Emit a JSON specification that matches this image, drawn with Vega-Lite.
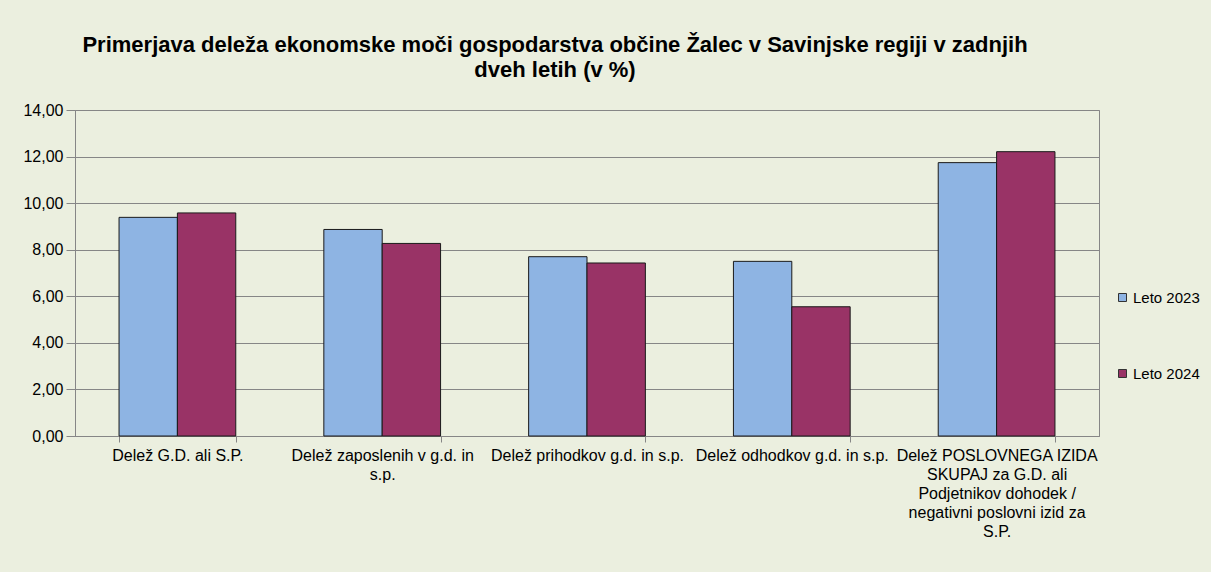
{
  "$schema": "https://vega.github.io/schema/vega-lite/v6.json",
  "width": 1024,
  "height": 326,
  "autosize": {"type": "none"},
  "padding": {"left": 75, "top": 110, "right": 112, "bottom": 136},
  "background": "#EBEFDF",
  "title": {
    "text": ["Primerjava deleža ekonomske moči gospodarstva občine Žalec v Savinjske regiji v zadnjih", "dveh letih (v %)"],
    "font": "Liberation Sans",
    "fontSize": 22,
    "fontWeight": "bold",
    "color": "#000000",
    "anchor": "middle",
    "dx": -32,
    "offset": 20.5,
    "lineHeight": 25
  },
  "data": {
    "values": [
      {"kategorija": "Delež G.D. ali S.P.", "leto": "Leto 2023", "vrednost": 9.39},
      {"kategorija": "Delež G.D. ali S.P.", "leto": "Leto 2024", "vrednost": 9.58},
      {"kategorija": "Delež zaposlenih v g.d. in s.p.", "leto": "Leto 2023", "vrednost": 8.87},
      {"kategorija": "Delež zaposlenih v g.d. in s.p.", "leto": "Leto 2024", "vrednost": 8.27},
      {"kategorija": "Delež prihodkov g.d. in s.p.", "leto": "Leto 2023", "vrednost": 7.70},
      {"kategorija": "Delež prihodkov g.d. in s.p.", "leto": "Leto 2024", "vrednost": 7.43},
      {"kategorija": "Delež odhodkov g.d. in s.p.", "leto": "Leto 2023", "vrednost": 7.50},
      {"kategorija": "Delež odhodkov g.d. in s.p.", "leto": "Leto 2024", "vrednost": 5.55},
      {"kategorija": "Delež POSLOVNEGA IZIDA SKUPAJ  za G.D. ali Podjetnikov dohodek / negativni poslovni izid za S.P.", "leto": "Leto 2023", "vrednost": 11.74},
      {"kategorija": "Delež POSLOVNEGA IZIDA SKUPAJ  za G.D. ali Podjetnikov dohodek / negativni poslovni izid za S.P.", "leto": "Leto 2024", "vrednost": 12.21}
    ]
  },
  "mark": {"type": "bar", "stroke": "#1A1A1A", "strokeWidth": 1},
  "encoding": {
    "x": {
      "field": "kategorija",
      "type": "nominal",
      "sort": null,
      "title": null,
      "scale": {"paddingInner": 0.43, "paddingOuter": 0.215},
      "axis": {
        "labelAngle": 0,
        "labelFont": "Liberation Sans",
        "labelFontSize": 16,
        "labelColor": "#000000",
        "labelPadding": 5,
        "labelLineHeight": 19,
        "labelLimit": 0,
        "labelBaseline": "top",
        "tickBand": "extent",
        "tickSize": 6,
        "tickColor": "#868686",
        "domainColor": "#868686",
        "labelExpr": "datum.value == 'Delež zaposlenih v g.d. in s.p.' ? ['Delež zaposlenih v g.d. in', 's.p.'] : datum.value == 'Delež POSLOVNEGA IZIDA SKUPAJ  za G.D. ali Podjetnikov dohodek / negativni poslovni izid za S.P.' ? ['Delež POSLOVNEGA IZIDA', 'SKUPAJ  za G.D. ali', 'Podjetnikov dohodek /', 'negativni poslovni izid za', 'S.P.'] : datum.label"
      }
    },
    "xOffset": {"field": "leto", "type": "nominal"},
    "y": {
      "field": "vrednost",
      "type": "quantitative",
      "title": null,
      "scale": {"domain": [0, 14], "nice": false},
      "axis": {
        "values": [0, 2, 4, 6, 8, 10, 12, 14],
        "labelExpr": "replace(format(datum.value, '.2f'), '.', ',')",
        "labelFont": "Liberation Sans",
        "labelFontSize": 16,
        "labelColor": "#000000",
        "labelPadding": 3,
        "tickSize": 9,
        "tickColor": "#868686",
        "domainColor": "#868686",
        "grid": true,
        "gridColor": "#868686",
        "gridWidth": 1
      }
    },
    "color": {
      "field": "leto",
      "type": "nominal",
      "title": null,
      "scale": {"domain": ["Leto 2023", "Leto 2024"], "range": ["#8EB4E3", "#993366"]},
      "legend": {
        "orient": "none",
        "legendX": 1040,
        "legendY": 180,
        "symbolType": "square",
        "symbolSize": 64,
        "symbolStrokeColor": "#333333",
        "symbolStrokeWidth": 1,
        "labelFont": "Liberation Sans",
        "labelFontSize": 15,
        "labelColor": "#000000",
        "labelOffset": 3,
        "rowPadding": 60
      }
    }
  },
  "config": {
    "view": {"stroke": "#868686", "strokeWidth": 1}
  }
}
